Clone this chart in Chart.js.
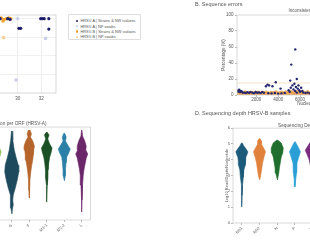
<!DOCTYPE html>
<html>
<head>
<meta charset="utf-8">
<script src="https://cdn.jsdelivr.net/npm/chart.js@4.4.1/dist/chart.umd.min.js"></script>
<style>
  html, body { margin: 0; padding: 0; background: #fff; }
  body { width: 310px; height: 240px; overflow: hidden; position: relative; font-family: "Liberation Sans", Arial, sans-serif; }
  canvas { position: absolute; }
  .head { position: absolute; font-size: 5.5px; line-height: 1; color: #555; white-space: nowrap; z-index: 2; }
  #legendA { position: absolute; left: 68px; top: 14px; width: 73px; height: 26px; box-sizing: border-box;
             border: 0.6px solid #ddd; border-radius: 1px; padding-top: 3.4px; font-size: 3.9px; color: #555; background: #fff; }
  #legendA div { height: 5.3px; line-height: 5.3px; white-space: nowrap; position: relative; padding-left: 11.5px; }
  #legendA span { position: absolute; left: 6.9px; top: 1.5px; width: 2.3px; height: 2.3px; border-radius: 50%; }
</style>
</head>
<body>
<canvas id="chartA" width="190" height="110" style="left:-130px;top:0px"></canvas>
<div id="legendA"></div>
<canvas id="chartB" width="200" height="110" style="left:200px;top:0px"></canvas>
<div class="head" style="left:195px;top:2.2px">B. Sequence errors</div>
<canvas id="chartC" width="230" height="130" style="left:-132px;top:110px"></canvas>
<canvas id="chartD" width="215" height="128" style="left:215px;top:112px"></canvas>
<div class="head" style="left:195px;top:110.8px">D. Sequencing depth HRSV-B samples</div>
<script>
// ---- A: coverage vs Ct (only the right part is in view)
const legendLabelsA = ['HRSV-A | Strains & NW isolates', 'HRSV-A | NP swabs', 'HRSV-B | Strains & NW isolates', 'HRSV-B | NP swabs'];
const coloursA = ['#1c1d6b', '#c9cfe2', '#f0a02e', '#f6cf98'];
const strainsA = [[28.5, 1.0], [29.15, 1.0], [29.35, 0.99], [30.1, 0.87], [30.25, 0.87], [31.95, 1.0], [32.1, 1.0], [32.25, 1.0], [32.64, 1.0], [32.64, 0.86]];
const swabsA = [[30.0, 1.0], [32.36, 0.735], [29.86, 0.175]];
const strainsB = [[28.4, 1.0], [28.6, 1.01], [28.75, 0.97], [28.85, 0.99], [29.05, 1.0], [29.25, 1.01], [29.4, 1.0]];
const swabsB = [[28.8, 0.745]];
const ctTicks = [22, 24, 26, 28, 30, 32];

// ---- B: sequence errors along the genome
const errorsA = [[300, 5.5], [380, 4.2], [450, 6.5], [520, 3.8], [600, 5.0], [680, 4.5], [760, 3.2], [900, 3.0], [1050, 2.5],
  [1200, 3.4], [1350, 2.8], [1500, 3.6], [1650, 3.0], [1800, 2.2], [1950, 3.8], [2100, 2.9], [2250, 3.3], [2400, 2.4],
  [2550, 3.9], [2700, 2.7], [2890, 11], [3030, 13], [3180, 12], [3480, 11], [3780, 16], [4220, 8], [3100, 2.2], [3400, 1.8],
  [3700, 2.5], [4000, 1.5], [4300, 2.0], [4600, 2.6], [5100, 18], [5700, 20], [5200, 38], [5560, 57], [4950, 6], [5050, 4],
  [5150, 9], [5300, 12], [5400, 7], [5480, 14], [5550, 5], [5620, 10], [5700, 3], [5780, 8], [5850, 12], [5920, 6], [6000, 4],
  [6100, 9], [6200, 5], [6300, 3], [6500, 2.5], [6700, 3.0], [6900, 2.0]];
const errorsB = [[300, 1.5], [420, 2.8], [520, 0.8], [610, 3.2], [700, 1.9], [820, 0.5], [900, 2.4], [1010, 3.6], [1100, 1.2],
  [1190, 2.9], [1300, 0.6], [1380, 2.1], [1470, 3.3], [1560, 1.0], [1650, 2.6], [1740, 0.4], [1830, 1.8], [1920, 3.0], [2010, 0.9],
  [2100, 2.2], [2190, 3.5], [2280, 1.4], [2370, 0.3], [2460, 2.7], [2550, 1.6], [2640, 3.1], [2730, 0.7], [2820, 2.0], [2910, 3.4],
  [3000, 1.1], [3090, 2.5], [3180, 0.5], [3270, 1.9], [3360, 3.2], [3450, 1.3], [3540, 2.8], [3630, 0.6], [3720, 2.3], [3810, 3.6],
  [3900, 1.0], [3990, 2.0], [4080, 0.4], [4170, 2.9], [4260, 1.7], [4350, 3.3], [4440, 0.8], [4530, 2.4], [4620, 1.5], [4710, 3.8],
  [4800, 2.1], [4890, 0.9], [4980, 3.0], [5070, 1.8], [5160, 4.2], [5250, 2.6], [5340, 1.2], [5430, 3.5], [5520, 0.7], [5610, 2.2],
  [5700, 4.0], [5790, 1.4], [5880, 2.9], [5970, 0.6], [6060, 3.4], [6150, 1.9], [6240, 4.4], [6330, 2.5], [6420, 1.0], [6510, 3.1],
  [6600, 1.7], [6690, 3.9], [6780, 2.3], [6870, 0.8], [6960, 3.0]];
const errorThreshold = 15;
const positionTicks = [2000, 4000, 6000, 8000, 10000, 12000, 14000];

// ---- C / D: depth per ORF, violin profiles as [log10 depth, half width]
const orfs = ['NS1', 'NS2', 'N', 'P', 'M', 'SH', 'G', 'F', 'M2-1', 'M2-2', 'L'];
const hrsvA_SH = [[5.7, 0.01], [5.2, 0.1], [4.8, 0.25], [4.4, 0.39], [4.0, 0.3], [3.5, 0.15], [3.0, 0.06], [2.0, 0.02], [1.0, 0.005]];
const hrsvA_G = [[5.74, 0.017], [5.16, 0.057], [4.52, 0.143], [4.0, 0.257], [3.55, 0.371], [3.1, 0.4], [2.58, 0.314], [2.06, 0.2],
  [1.61, 0.086], [1.29, 0.057], [0.97, 0.086], [0.77, 0.046], [0.39, 0.011]];
const hrsvA_F = [[5.81, 0.046], [5.55, 0.126], [5.35, 0.069], [5.1, 0.2], [4.77, 0.297], [4.52, 0.257], [4.19, 0.229], [3.87, 0.2],
  [3.55, 0.143], [3.1, 0.086], [2.58, 0.04], [1.94, 0.023], [1.42, 0.006]];
const hrsvA_M21 = [[5.68, 0.017], [5.48, 0.131], [5.23, 0.057], [4.9, 0.171], [4.65, 0.303], [4.39, 0.257], [4.06, 0.171], [3.68, 0.114],
  [3.23, 0.074], [2.71, 0.069], [2.26, 0.029], [1.16, 0.006]];
const hrsvA_M22 = [[5.61, 0.017], [5.35, 0.114], [5.1, 0.069], [4.84, 0.2], [4.58, 0.343], [4.32, 0.257], [4.06, 0.143], [3.68, 0.103],
  [3.23, 0.069], [2.84, 0.057], [2.52, 0.011]];
const hrsvA_L = [[5.81, 0.011], [5.42, 0.046], [5.1, 0.171], [4.77, 0.257], [4.52, 0.229], [4.26, 0.343], [4.0, 0.257], [3.68, 0.2],
  [3.35, 0.143], [2.9, 0.086], [2.26, 0.046], [1.29, 0.017], [0.52, 0.006]];
const hrsvB_NS1 = [[5.07, 0.017], [4.87, 0.11], [4.74, 0.2], [4.5, 0.34], [4.3, 0.28], [4.17, 0.226], [3.92, 0.2], [3.67, 0.19],
  [3.35, 0.113], [2.91, 0.085], [2.4, 0.04], [1.77, 0.02], [1.03, 0.006]];
const hrsvB_NS2 = [[5.36, 0.011], [5.19, 0.11], [5.0, 0.1], [4.74, 0.23], [4.51, 0.34], [4.18, 0.254], [3.8, 0.17], [3.35, 0.113],
  [2.97, 0.06], [2.72, 0.01]];
const hrsvB_N = [[5.25, 0.017], [5.06, 0.226], [4.74, 0.34], [4.43, 0.31], [4.18, 0.226], [3.8, 0.17], [3.48, 0.12], [3.16, 0.085], [2.72, 0.01]];
const hrsvB_P = [[5.15, 0.011], [4.87, 0.15], [4.51, 0.31], [4.3, 0.25], [4.11, 0.2], [3.8, 0.113], [3.48, 0.1], [3.16, 0.085], [2.72, 0.04], [2.3, 0.006]];
const hrsvB_M = [[5.3, 0.01], [5.0, 0.2], [4.6, 0.42], [4.3, 0.3], [4.0, 0.2], [3.5, 0.1], [3.0, 0.05], [2.5, 0.01]];
const depthTicks = [0, 1, 2, 3, 4, 5, 6];

Chart.defaults.font.family = '"Liberation Sans", Arial, sans-serif';
Chart.defaults.color = '#555';
Chart.defaults.animation = false;
Chart.defaults.plugins.legend.display = false;
Chart.defaults.plugins.tooltip.enabled = false;

// matplotlib style box round the plot area
Chart.register({
  id: 'frame',
  afterDatasetsDraw(chart) {
    const { ctx, chartArea: a } = chart;
    ctx.save();
    ctx.strokeStyle = '#c8c8c8';
    ctx.lineWidth = 0.7;
    ctx.strokeRect(a.left, a.top, a.right - a.left, a.bottom - a.top);
    ctx.restore();
  }
});

const fixW = w => s => { s.width = w; };
const fixH = h => s => { s.height = h; };
const setTicks = vals => s => { s.ticks = vals.map(v => ({ value: v })); };
const pts = arr => arr.map(([x, y]) => ({ x, y }));
const small = size => ({ size });
// centred over the plot area, not the whole canvas
const plotTitle = (text, size, top, bottom) => ({ display: true, fullSize: false, text, color: '#555',
  font: { size, weight: 'normal' }, padding: { top, bottom } });

// legend A (html, boxed like matplotlib)
document.getElementById('legendA').innerHTML = legendLabelsA
  .map((l, i) => `<div><span style="background:${coloursA[i]}"></span>${l}</div>`).join('');

const dot = (data, colour, r) => ({ data: pts(data), backgroundColor: colour, borderColor: colour, borderWidth: 0, pointRadius: r });

// first dataset is painted last (on top) in Chart.js
new Chart(document.getElementById('chartA'), {
  type: 'scatter',
  data: { datasets: [dot(strainsA, coloursA[0], 1.6), dot(swabsA, coloursA[1], 1.8), dot(swabsB, coloursA[3], 1.8), dot(strainsB, coloursA[2], 1.8)] },
  options: {
    responsive: false,
    layout: { padding: { top: 15, right: 1 } },
    scales: {
      x: { min: 20, max: 33.25, afterBuildTicks: setTicks(ctTicks), afterFit: fixH(17),
           grid: { color: '#ececec', drawTicks: false }, border: { display: false },
           ticks: { font: small(4.5), padding: 3 } },
      y: { min: 0, max: 1.05, afterBuildTicks: setTicks([0.25, 0.5, 0.75, 1.0]), afterFit: fixW(30),
           grid: { color: '#f0f0f0', drawTicks: false }, border: { display: false },
           ticks: { font: small(4.5) } }
    }
  }
});

new Chart(document.getElementById('chartB'), {
  type: 'scatter',
  data: {
    datasets: [
      { data: pts(errorsA), backgroundColor: '#23246e', borderColor: '#23246e', borderWidth: 0, pointRadius: 1.2 },
      { data: pts(errorsB), backgroundColor: 'rgba(232,160,80,0.85)', borderWidth: 0, pointRadius: 1.8 },
      { type: 'line', data: [{ x: 250, y: errorThreshold }, { x: 14740, y: errorThreshold }], borderColor: '#f3dcb6', borderWidth: 0.8, pointRadius: 0 }
    ]
  },
  options: {
    responsive: false,
    layout: { padding: { left: 18 } },
    plugins: { title: plotTitle('Inconsistent nucleotide calls', 4.5, 8.3, 1.3) },
    scales: {
      x: { min: 250, max: 14740, afterBuildTicks: setTicks(positionTicks), afterFit: fixH(15),
           grid: { drawOnChartArea: false, tickLength: 2, color: '#bbb' }, border: { display: false },
           ticks: { font: small(4.5), padding: 0, callback: v => String(v) },
           title: { display: true, text: 'Nucleotide Position', font: small(4.5), color: '#555', padding: { top: 0, bottom: 4 } } },
      y: { min: 0, max: 100, afterBuildTicks: setTicks([0, 20, 40, 60, 80, 100]), afterFit: fixW(19),
           grid: { drawOnChartArea: false, tickLength: 2, color: '#bbb' }, border: { display: false },
           ticks: { font: small(4.5), padding: 1.5 },
           title: { display: true, text: 'Percentage (%)', font: small(4.5), color: '#555', padding: { top: 2.6, bottom: 0 } } }
    }
  }
});

function violin(profile, idx, colour) {
  const right = profile.map(([d, h]) => ({ x: idx + h, y: d }));
  const left = profile.map(([d, h]) => ({ x: idx - h, y: d })).reverse();
  return { data: right.concat(left), showLine: true, fill: 'shape', tension: 0,
           backgroundColor: colour, borderColor: colour, borderWidth: 0.6, pointRadius: 0 };
}

function violinScales(yTitle, yWidth, xHeight) {
  return {
    x: { min: -0.5, max: orfs.length - 0.5, afterBuildTicks: setTicks(orfs.map((o, i) => i)), afterFit: fixH(xHeight),
         grid: { drawOnChartArea: false, tickLength: 2, color: '#bbb' }, border: { display: false },
         ticks: { font: small(4), padding: 1, autoSkip: false, minRotation: 45, maxRotation: 45, callback: v => orfs[v] } },
    y: { min: 0, max: 6, afterBuildTicks: setTicks(depthTicks), afterFit: fixW(yWidth),
         grid: { drawOnChartArea: false, tickLength: 2, color: '#bbb' }, border: { display: false },
         ticks: { font: small(4), padding: 1 },
         title: { display: true, text: yTitle, font: small(4), color: '#555', padding: { top: 2.3, bottom: 0 } } }
  };
}

new Chart(document.getElementById('chartC'), {
  type: 'scatter',
  data: { datasets: [
    violin(hrsvA_SH, 5, '#8cbb4e'), violin(hrsvA_G, 6, '#1d4a5c'), violin(hrsvA_F, 7, '#b5652c'),
    violin(hrsvA_M21, 8, '#1b4f25'), violin(hrsvA_M22, 9, '#2b80a8'), violin(hrsvA_L, 10, '#6b2569')
  ] },
  options: {
    responsive: false,
    layout: { padding: { right: 7.5 } },
    plugins: { title: plotTitle('Sequencing Depth Distribution per ORF (HRSV-A)', 4.7, 11.2, 0.2) },
    scales: violinScales('Log10 Read Depth/Nucleotide', 30, 20)
  }
});

new Chart(document.getElementById('chartD'), {
  type: 'scatter',
  data: { datasets: [
    violin(hrsvB_NS1, 0, '#1d5b7a'), violin(hrsvB_NS2, 1, '#e0823c'), violin(hrsvB_N, 2, '#1f6e2e'),
    violin(hrsvB_P, 3, '#2a9fd6'), violin(hrsvB_M, 4, '#7b2a7e')
  ] },
  options: {
    responsive: false,
    layout: { padding: { left: 7, right: 2.3 } },
    plugins: { title: plotTitle('Sequencing Depth Distribution per ORF (HRSV-B)', 4.7, 10.5, 0) },
    scales: violinScales('Log10 Read Depth/Nucleotide', 11, 17)
  }
});
</script>
</body>
</html>
